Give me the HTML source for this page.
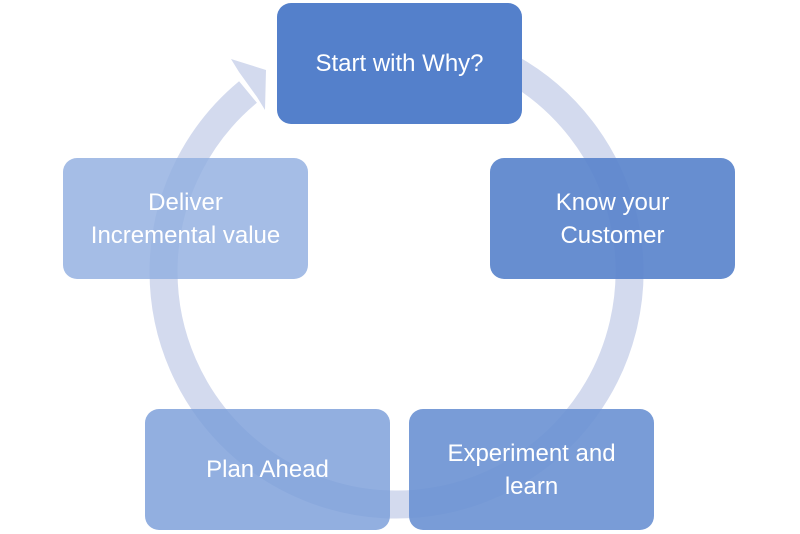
<!DOCTYPE html>
<html><head><meta charset="utf-8"><style>
html,body{margin:0;padding:0;background:#fff;width:800px;height:534px;overflow:hidden}
.b{position:absolute;width:245px;height:121px;border-radius:14px;color:#fff;font-family:"Liberation Sans",sans-serif;font-size:24px;line-height:33px;display:flex;align-items:center;justify-content:center;text-align:center}
</style></head><body>
<svg width="800" height="534" style="position:absolute;left:0;top:0">
<path d="M 510 68 A 233 233 0 1 1 248 92" fill="none" stroke="#d3daee" stroke-width="28"/>
<polygon points="231,59 266,70 265,110 257,97 239,72" fill="#d3daee"/>
</svg>
<div class="b" style="left:277px;top:3px;background:#5480cb">Start with Why?</div>
<div class="b" style="left:490px;top:158px;background:rgba(90,132,204,0.92)">Know your<br>Customer</div>
<div class="b" style="left:409px;top:409px;background:rgba(106,145,211,0.9)">Experiment and<br>learn</div>
<div class="b" style="left:145px;top:409px;background:rgba(122,158,217,0.82)">Plan Ahead</div>
<div class="b" style="left:63px;top:158px;background:rgba(145,175,224,0.82)">Deliver<br>Incremental value</div>
</body></html>
